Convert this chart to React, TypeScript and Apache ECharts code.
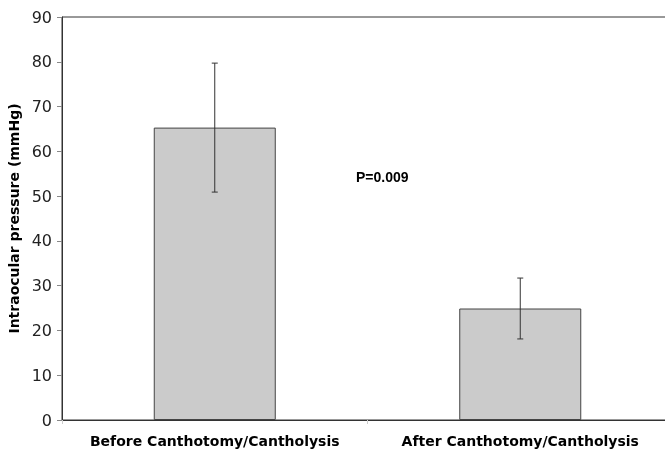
import React, { useEffect, useRef } from "react";
import * as echarts from "echarts";

const categories = ["Before Canthotomy/Cantholysis", "After Canthotomy/Cantholysis"];
const means = [65.3, 24.9];
const errLow = [50.9, 18.1];
const errHigh = [79.7, 31.7];
const yTicks = { min: 0, max: 90, interval: 10 };
const annotation = "P=0.009";

export default function App() {
  const ref = useRef<HTMLDivElement>(null);
  useEffect(() => {
    const chart = echarts.init(ref.current!, null, { renderer: "svg" });
    chart.setOption({
      animation: false,
      grid: {
        left: 62, top: 17, width: 611, height: 403,
        outerBoundsMode: "none", containLabel: false,
        show: true, borderColor: "#333", borderWidth: 1, backgroundColor: "transparent",
      },
      xAxis: {
        type: "category",
        data: categories,
        axisLine: { lineStyle: { color: "#333", width: 1 } },
        axisTick: { show: true, alignWithLabel: false, length: 4, lineStyle: { color: "#ccc" } },
        axisLabel: { interval: 0, hideOverlap: false, color: "#000", fontFamily: "DejaVu Sans", fontWeight: "bold", fontSize: 14, margin: 14 },
      },
      yAxis: {
        type: "value",
        min: yTicks.min,
        max: yTicks.max,
        interval: yTicks.interval,
        name: "Intraocular pressure (mmHg)",
        nameLocation: "middle",
        nameGap: 37,
        nameTextStyle: { color: "#000", fontFamily: "DejaVu Sans", fontWeight: "bold", fontSize: 14 },
        axisLine: { show: true, lineStyle: { color: "#333", width: 1 } },
        axisTick: { show: true, length: 5, lineStyle: { color: "#888" } },
        splitLine: { show: false },
        axisLabel: { color: "#222", fontFamily: "DejaVu Sans", fontSize: 16, margin: 10 },
      },
      series: [
        {
          type: "bar",
          data: means,
          barWidth: 122,
          itemStyle: { color: "#cbcbcb", borderColor: "#444", borderWidth: 1 },
        },
        {
          type: "custom",
          data: categories.map((_, i) => [i, errLow[i], errHigh[i]]),
          renderItem: (params: any, api: any) => {
            const x = api.value(0);
            const lo = api.coord([x, api.value(1)]);
            const hi = api.coord([x, api.value(2)]);
            const w = 3;
            const style = { stroke: "#333", lineWidth: 1 };
            return {
              type: "group",
              children: [
                { type: "line", shape: { x1: hi[0], y1: hi[1], x2: lo[0], y2: lo[1] }, style },
                { type: "line", shape: { x1: hi[0] - w, y1: hi[1], x2: hi[0] + w, y2: hi[1] }, style },
                { type: "line", shape: { x1: lo[0] - w, y1: lo[1], x2: lo[0] + w, y2: lo[1] }, style },
              ],
            };
          },
          z: 10,
        },
      ],
      graphic: [
        {
          type: "text",
          left: 356,
          top: 170,
          style: { text: annotation, fill: "#000", font: "bold 14px 'Liberation Sans', Arial, sans-serif" },
        },
      ],
    });
    return () => chart.dispose();
  }, []);
  return <div ref={ref} style={{ position: "fixed", left: 0, top: 0, width: 665, height: 449 }} />;
}
